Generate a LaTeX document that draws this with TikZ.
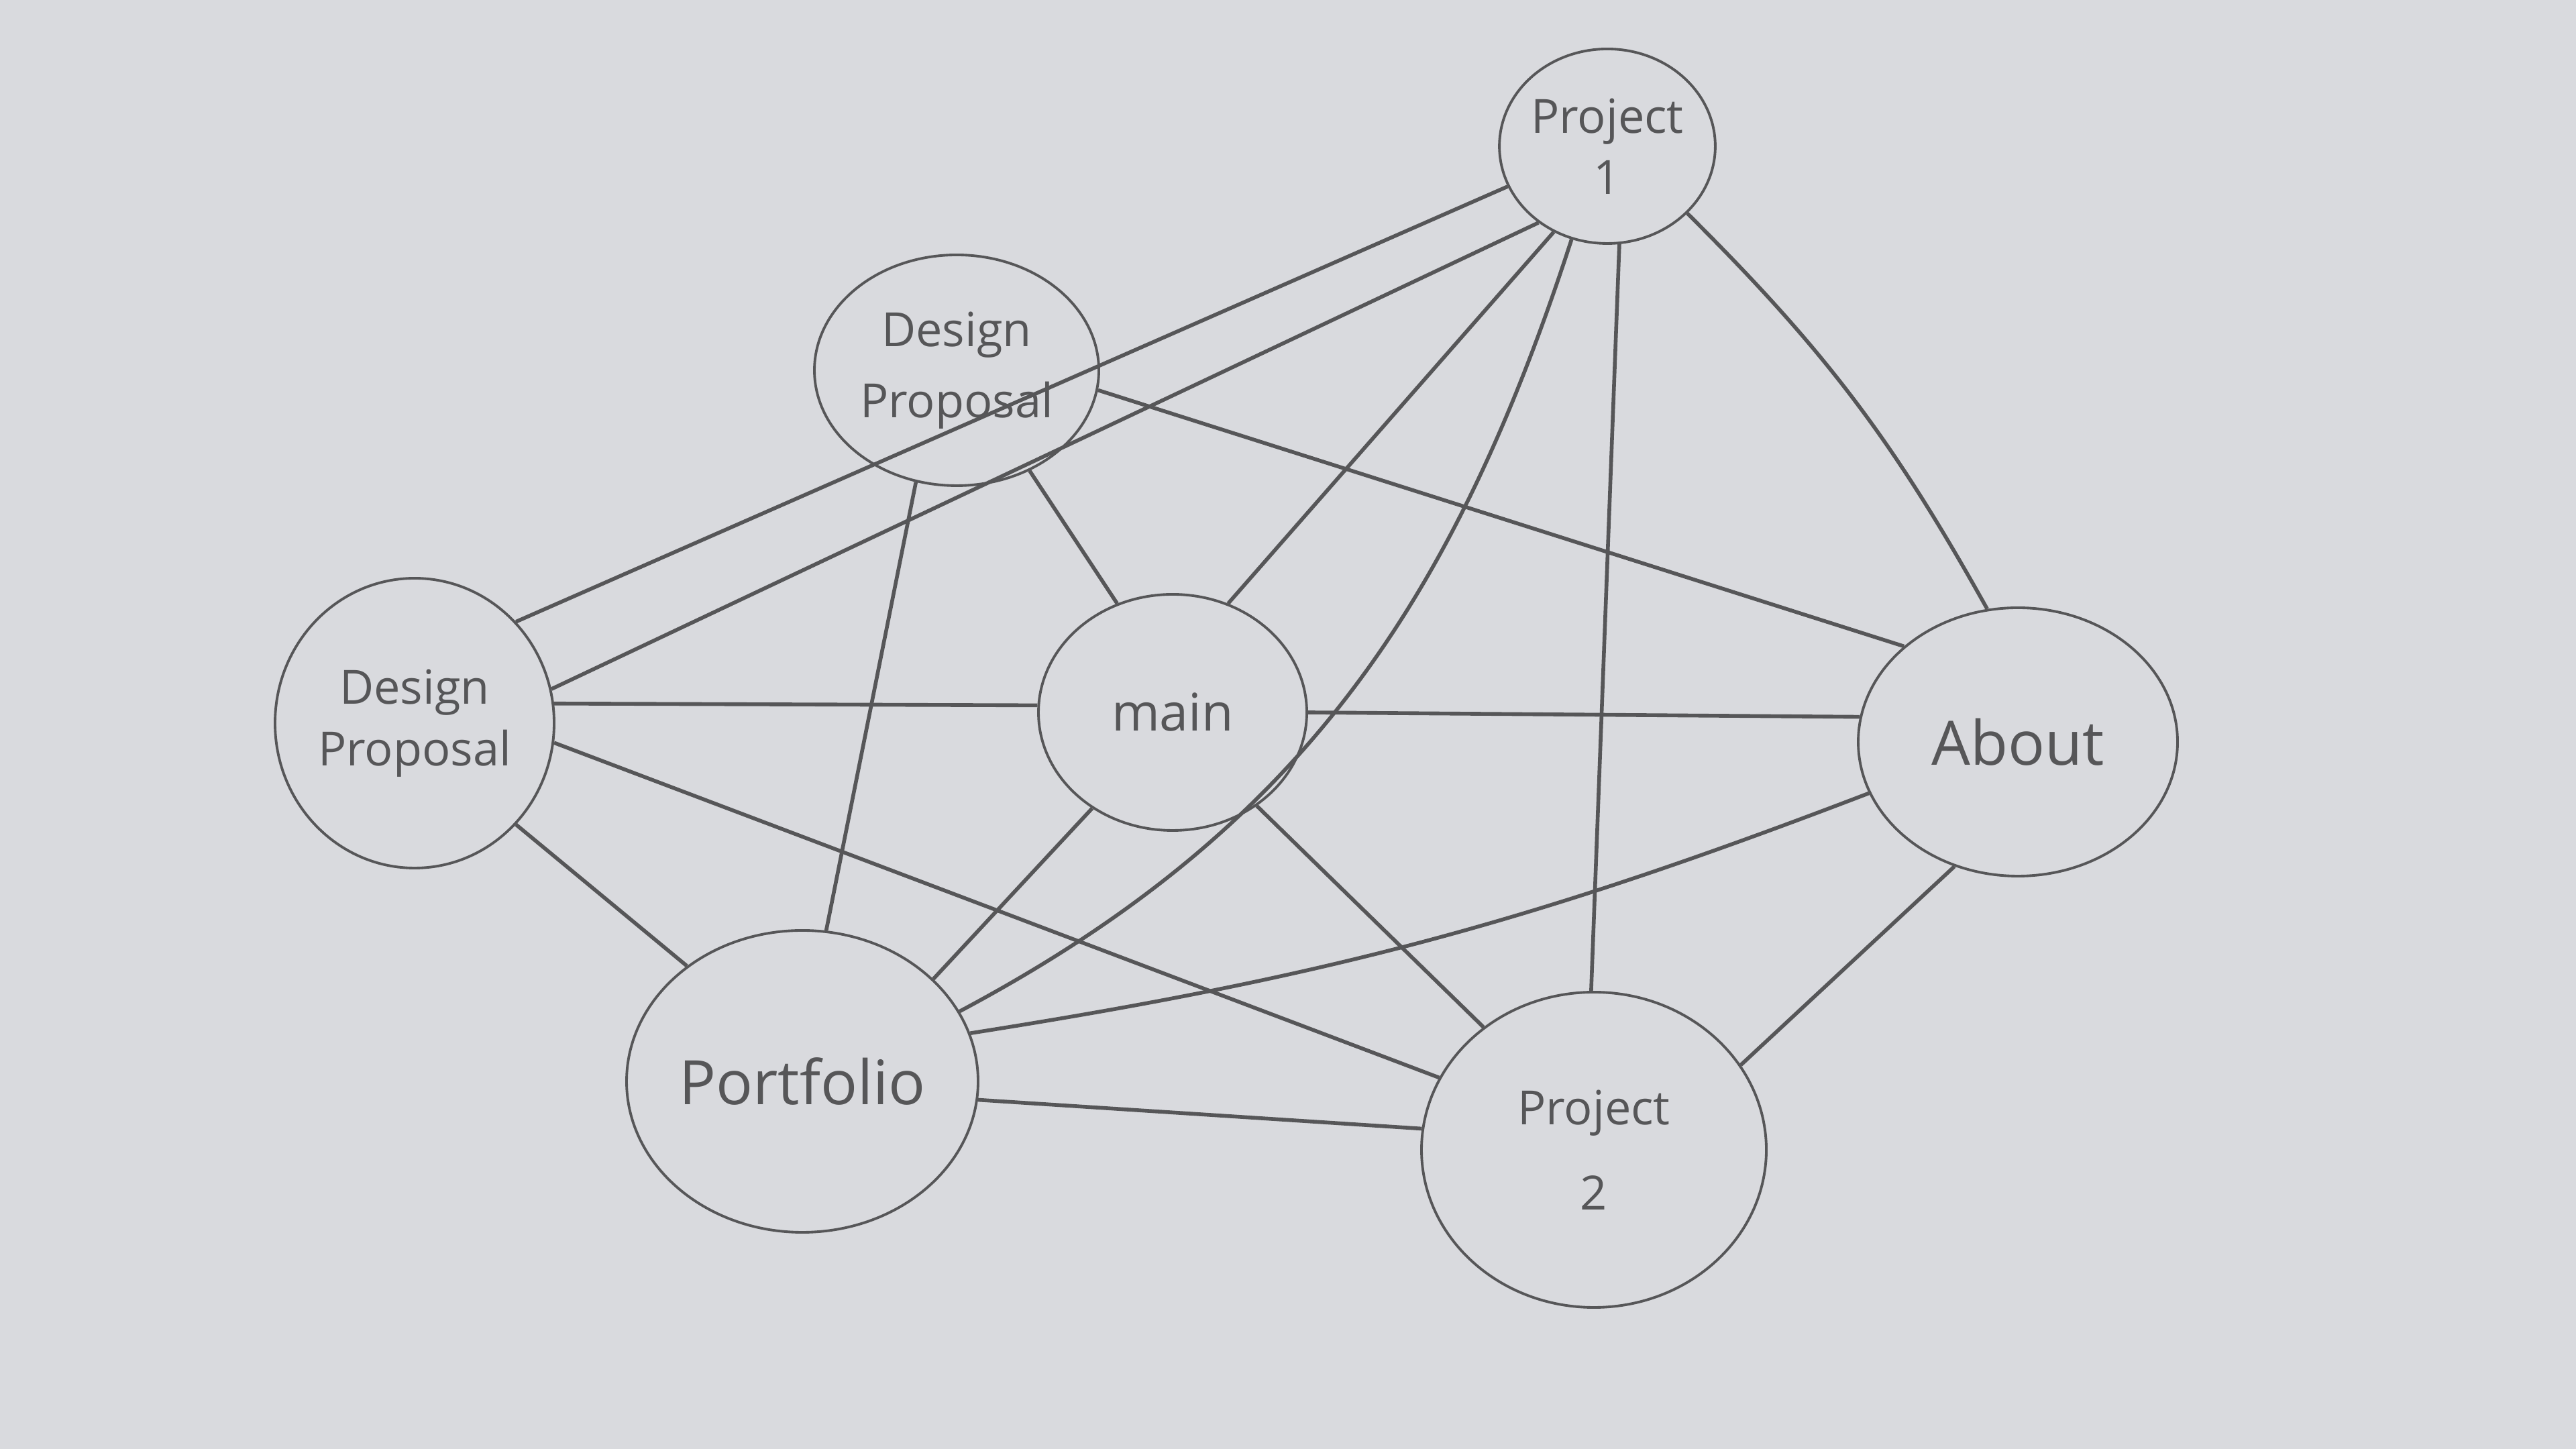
\documentclass[tikz,border=0pt]{standalone}
\usepackage{fontspec}
\setmainfont{Open Sans}
\usepackage{xcolor}
\definecolor{Paper}{RGB}{217,218,222}
\definecolor{Pencil}{RGB}{86,86,88}
\usetikzlibrary{shapes.geometric,positioning}

\begin{document}
\begin{tikzpicture} [ % 先定义样式
            font=\fontsize{10}{13}\selectfont,
            bubble/.style = {ellipse, draw=Pencil, line width=0.55pt, inner sep=0pt, text=Pencil, align=center},
            link/.style = {draw=Pencil, line width=0.8pt}
        ]

        % 纸
        \fill [Paper] (0,0) rectangle (19.2,10.8);
        \useasboundingbox (0,0) rectangle (19.2,10.8);

        % 节点
        \node [bubble, minimum width=1.5cm, minimum height=1.45cm] (pj1) at (11.98,9.71) {Project\\1};
        \node [bubble, minimum width=2.12cm, minimum height=1.72cm] (dp1) at (7.13,8.04) {Design\\[2pt]Proposal};
        \node [bubble, minimum width=2.08cm, minimum height=2.16cm] (dp2) at (3.09,5.41) {Design\\Proposal};
        \node [bubble, minimum width=2.0cm, minimum height=1.76cm, font=\fontsize{11}{13}\selectfont] (mn) at (8.74,5.49) {main};
        \node [bubble, minimum width=2.38cm, minimum height=2.0cm, font=\fontsize{13}{15}\selectfont] (ab) at (15.04,5.27) {About};
        \node [bubble, minimum width=2.62cm, minimum height=2.25cm, font=\fontsize{13}{15}\selectfont] (pf) at (5.98,2.74) {Portfolio};
        \node [bubble, minimum width=2.57cm, minimum height=2.35cm] (pj2) at (11.88,2.23) {Project\\[5pt]2};

        % 连线 左边
        \draw [link] (dp2.45) -- (pj1.202);
        \draw [link] (dp2.14) -- (pj1.228);
        \draw [link] (dp2.8) -- (mn.177);
        \draw [link] (dp2.-8) -- (pj2.155);
        \draw [link] (dp2.-45) -- (pf.135);

        % 上
        \draw [link] (dp1.352) -- (ab.140);
        \draw [link] (dp1.250) -- (pf.81);
        \draw [link] (dp1.306) -- (mn.117);

        % Project 1
        \draw [link] (pj1.238) -- (mn.63);
        \draw [link] (pj1.249) to [out=252, in=28] (pf.24);
        \draw [link] (pj1.277) -- (pj2.91);
        \draw [link] (pj1.320) to [bend left=8] (ab.103);

        % 其余
        \draw [link] (mn.0) -- (ab.171);
        \draw [link] (mn.230) -- (pf.38);
        \draw [link] (mn.312) -- (pj2.132);
        \draw [link] (ab.199) to [bend left=6] (pf.16);
        \draw [link] (ab.243) -- (pj2.30);
        \draw [link] (pf.354) -- (pj2.173);

    \end{tikzpicture}
\end{document}
